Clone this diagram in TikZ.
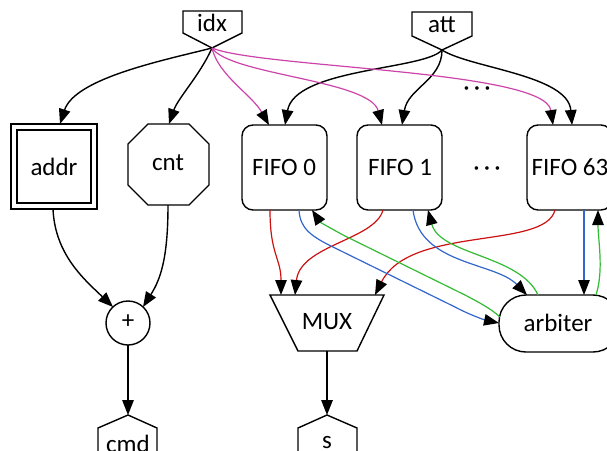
\documentclass[tikz,border=0pt]{standalone}
\usepackage{fontspec}
\setmainfont{Carlito}
\usetikzlibrary{arrows.meta}
\definecolor{mag}{HTML}{CC44AA}
\definecolor{rd}{HTML}{CC1111}
\definecolor{bl}{HTML}{3366CC}
\definecolor{gr}{HTML}{33BB33}
\tikzset{
  shp/.style={draw=black,line width=1.4pt,line join=miter},
  lbl/.style={font=\fontsize{25}{29}\selectfont,inner sep=0pt},
  ed/.style={line width=1.4pt,-{Triangle[length=15pt,width=11.5pt]}},
  ced/.style={line width=1.2pt,-{Triangle[length=15pt,width=11.5pt,color=black,fill=black]}},
}
\begin{document}
\begin{tikzpicture}[x=1pt,y=-1pt]
\useasboundingbox (0,0) rectangle (607,450);
\clip (0,0) rectangle (607,450);
% shapes
\draw[shp] (183,11)--(242,11)--(242,33)--(212,48)--(183,33)--cycle;
\node[lbl] (idx) at (212,23) {idx};
\coordinate (idxT) at (212,48);
\draw[shp] (412,12)--(472,12)--(472,36)--(442,50)--(412,36)--cycle;
\node[lbl] (att) at (442,25) {att};
\coordinate (attT) at (442,50);
\node[lbl] (dots1) at (477,91) {·\,·\,·};
\draw[shp] (11,124) rectangle (97,209);
\draw[shp] (17,130) rectangle (91,203);
\node[lbl] (addr) at (54,167) {addr};
\draw[shp] (148,124)--(189,124)--(209,144)--(209,185)--(189,205)--(148,205)--(128,185)--(128,144)--cycle;
\node[lbl] (cnt) at (168,163) {cnt};
\draw[shp,rounded corners=11] (242,125) rectangle (327,210);
\node[lbl] (f0) at (284,167) {FIFO 0};
\draw[shp,rounded corners=11] (357,125) rectangle (442,210);
\node[lbl] (f1) at (400,167) {FIFO 1};
\node[lbl] (dots2) at (487,171) {·\,·\,·};
\draw[shp,rounded corners=11] (527,125) rectangle (612,210);
\node[lbl] (f63) at (570,167) {FIFO 63};
\draw[shp] (128,323) circle (22);
\node[lbl] (plus) at (128,322) {+};
\draw[shp] (270,295)--(384,295)--(357,351)--(298,351)--cycle;
\node[lbl] (mux) at (327,322) {MUX};
\draw[shp,rounded corners=27] (499,295) rectangle (620,352);
\node[lbl] (arb) at (558,323) {arbiter};
\draw[shp] (98,460)--(98,428)--(128,415)--(157,428)--(157,460);
\node[lbl] (cmd) at (128,444) {cmd};
\draw[shp] (298,460)--(298,428)--(327,415)--(357,428)--(357,460);
\node[lbl] (s) at (327,443) {s};
% anchors
\coordinate (addrT) at (60,124);
\coordinate (addrB) at (53,209);
\coordinate (cntT) at (169,124);
\coordinate (cntB) at (168,205);
\coordinate (f0a) at (269,125);
\coordinate (f0b) at (285,125);
\coordinate (f1a) at (382,125);
\coordinate (f1b) at (402,125);
\coordinate (f63a) at (553,125);
\coordinate (f63b) at (572,125);
\coordinate (f0r) at (270,210);
\coordinate (f0bl) at (299,210);
\coordinate (f0g) at (312,210);
\coordinate (f1r) at (383,210);
\coordinate (f1bl) at (413,210);
\coordinate (f1g) at (428,210);
\coordinate (f63r) at (555,210);
\coordinate (f63bl) at (584,210);
\coordinate (f63g) at (598,210);
\coordinate (mux1) at (281,295);
\coordinate (mux2) at (295,295);
\coordinate (mux3) at (375,295);
\coordinate (arbL) at (499,323);
\coordinate (arbLg) at (500,317);
\coordinate (arbT1) at (527,295);
\coordinate (arbT2) at (538,295);
\coordinate (arbT3) at (584,295);
\coordinate (arbT4) at (596,295);
\coordinate (plusTL) at (113,307);
\coordinate (plusTR) at (143,307);
\coordinate (plusB) at (128,345);
\coordinate (cmdT) at (128,415);
\coordinate (muxB) at (327,351);
\coordinate (sT) at (327,415);
% black edges from idx / att
\draw[ed] (idxT) .. controls (165,60) and (75,78) .. (addrT);
\draw[ed] (idxT) .. controls (200,75) and (178,98) .. (cntT);
\draw[ed] (attT) .. controls (425,70) and (295,68) .. (f0b);
\draw[ed] (attT) .. controls (442,80) and (408,88) .. (f1b);
\draw[ed] (attT) .. controls (470,68) and (568,75) .. (f63b);
% magenta
\draw[ced,mag] (idxT) .. controls (218,75) and (252,95) .. (f0a);
\draw[ced,mag] (idxT) .. controls (230,75) and (370,80) .. (f1a);
\draw[ced,mag] (idxT) .. controls (260,68) and (545,70) .. (f63a);
% red
\draw[ced,rd] (f0r) .. controls (270,255) and (281,258) .. (mux1);
\draw[ced,rd] (f1r) .. controls (375,240) and (300,245) .. (mux2);
\draw[ced,rd] (f63r) .. controls (545,250) and (410,225) .. (mux3);
% blue
\draw[ced,bl] (f0bl) .. controls (300,228) and (310,236) .. (335,248) -- (455,307) .. controls (470,315) and (485,320) .. (arbL);
\draw[ced,bl] (f1bl) .. controls (420,265) and (495,262) .. (arbT1);
\draw[ced,bl] (f63bl) -- (arbT3);
% green
\draw[ced,gr] (arbLg) .. controls (490,308) and (480,303) .. (465,295) -- (345,236) .. controls (330,228) and (320,222) .. (f0g);
\draw[ced,gr] (arbT2) .. controls (520,255) and (440,255) .. (f1g);
\draw[ced,gr] (arbT4) .. controls (604,270) and (598,240) .. (f63g);
% lower left
\draw[ed] (addrB) .. controls (55,255) and (85,280) .. (plusTL);
\draw[ed] (cntB) .. controls (168,260) and (160,280) .. (plusTR);
\draw[ed] (plusB) -- (cmdT);
\draw[ed] (muxB) -- (sT);
\end{tikzpicture}
\end{document}
